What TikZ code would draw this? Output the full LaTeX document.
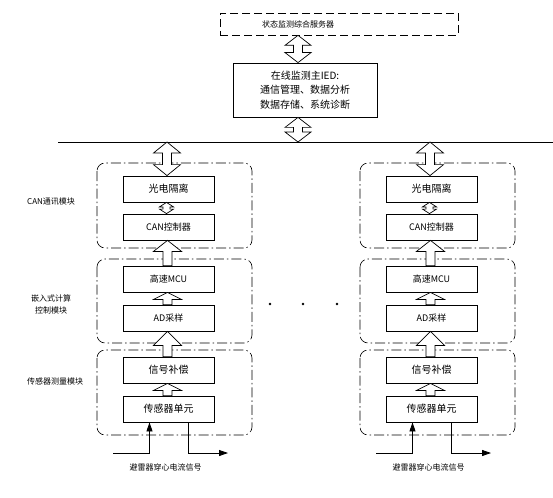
\documentclass[tikz,border=0pt]{standalone}
\usepackage{fontspec}
\setmainfont{Noto Sans CJK SC}
\usetikzlibrary{arrows.meta,calc}
\tikzset{
  unitbox/.style={draw, line width=0.8pt, minimum width=91pt, minimum height=26pt, inner sep=0pt, font=\fontsize{10}{12}\selectfont},
  group/.style={draw, line width=0.6pt, rounded corners=8pt, dash pattern=on 10pt off 3pt on 1.5pt off 3pt},
  blk/.style={draw, fill=white, line width=0.7pt, line join=miter},
  sig/.style={line width=0.8pt, -{Triangle[length=9pt,width=6pt]}},
  lbl/.style={font=\fontsize{8}{10}\selectfont, inner sep=0pt},
}
\newcommand{\blkdbl}[5]{%
  \draw[blk] let \p1=#1, \p2=#2 in
    (\x1,\y1) -- (\x1+#3,\y1-#5) -- (\x1+#4,\y1-#5) -- (\x1+#4,\y2+#5) -- (\x1+#3,\y2+#5)
    -- (\x1,\y2) -- (\x1-#3,\y2+#5) -- (\x1-#4,\y2+#5) -- (\x1-#4,\y1-#5) -- (\x1-#3,\y1-#5) -- cycle;}
\newcommand{\blkup}[5]{%
  \draw[blk] let \p1=#1, \p2=#2 in
    (\x1,\y1) -- (\x1+#3,\y1-#5) -- (\x1+#4,\y1-#5) -- (\x1+#4,\y2)
    -- (\x1-#4,\y2) -- (\x1-#4,\y1-#5) -- (\x1-#3,\y1-#5) -- cycle;}
\begin{document}
\begin{tikzpicture}[x=1pt,y=-1pt]
\useasboundingbox (0,0) rectangle (553,497);
% server
\node[draw, dashed, dash pattern=on 8pt off 4pt, line width=0.7pt, minimum width=238pt, minimum height=22pt, inner sep=0pt] (srv) at (339,24) {};
\node[lbl] (srvt) at (298,24) {状态监测综合服务器};
% IED
\node[draw, line width=0.8pt, minimum width=144pt, minimum height=54pt, inner sep=0pt, align=center, font=\fontsize{10}{14.5}\selectfont] (ied) at (305,90) {在线监测主IED:\\通信管理、数据分析\\数据存储、系统诊断};
% bus
\coordinate (busL) at (58,142);
\coordinate (busR) at (553,142);
\draw[line width=0.9pt] (busL) -- (busR);
\blkdbl{(srvt |- srv.south)}{(srvt |- ied.north)}{13pt}{4.5pt}{10pt}
\blkdbl{(srvt |- ied.south)}{(srvt |- busL)}{13pt}{4.5pt}{10pt}
% side labels
\node[lbl, anchor=west] (l1) at (27,202) {CAN通讯模块};
\node[lbl, align=center, font=\fontsize{8}{12}\selectfont] (l2) at (51,304) {嵌入式计算\\控制模块};
\node[lbl, anchor=west] (l3) at (27,381) {传感器测量模块};
% columns
\foreach \c/\cx in {a/168.5, b/431.5} {
  \draw[group] (\cx-71.5,163) rectangle (\cx+83.5,248);
  \draw[group] (\cx-71.5,259) rectangle (\cx+83.5,343);
  \draw[group] (\cx-71.5,350) rectangle (\cx+83.5,435);
  \node[unitbox] (opt\c) at (\cx,189) {光电隔离};
  \node[unitbox, font=\fontsize{9}{11}\selectfont] (can\c) at (\cx,227) {CAN控制器};
  \node[unitbox, font=\fontsize{9}{11}\selectfont] (mcu\c) at (\cx,279) {高速MCU};
  \node[unitbox, font=\fontsize{9}{11}\selectfont] (ad\c) at (\cx,318) {AD采样};
  \node[unitbox] (cmp\c) at (\cx,370) {信号补偿};
  \node[unitbox] (sen\c) at (\cx,409) {传感器单元};
  \blkdbl{([xshift=-1.5pt]opt\c.north |- busL)}{([xshift=-1.5pt]opt\c.north)}{13.5pt}{4.5pt}{11pt}
  \blkdbl{([xshift=-2pt]opt\c.south)}{([xshift=-2pt]can\c.north)}{7pt}{3.5pt}{4.5pt}
  \blkup{([xshift=-1pt]can\c.south)}{([xshift=-1pt]mcu\c.north)}{14pt}{4.5pt}{11pt}
  \blkup{([xshift=-1pt]mcu\c.south)}{([xshift=-1pt]ad\c.north)}{14pt}{4.5pt}{7pt}
  \blkup{([xshift=-1pt]ad\c.south)}{([xshift=-1pt]cmp\c.north)}{14pt}{4.5pt}{14pt}
  \blkup{([xshift=-1pt]cmp\c.south)}{([xshift=-1pt]sen\c.north)}{14pt}{4.5pt}{7pt}
  \coordinate (in\c) at (\cx-55.5,453);
  \coordinate (out\c) at (\cx+59.5,453);
  \draw[sig] (in\c) -| ([xshift=-19pt]sen\c.south);
  \draw[sig] ([xshift=19.5pt]sen\c.south) |- (out\c);
  \node[lbl] (sig\c) at (\cx-3,467.5) {避雷器穿心电流信号};
}
% dots
\fill (270,304) circle (1.3pt) (303,304) circle (1.3pt) (337,304) circle (1.3pt);
\end{tikzpicture}
\end{document}
